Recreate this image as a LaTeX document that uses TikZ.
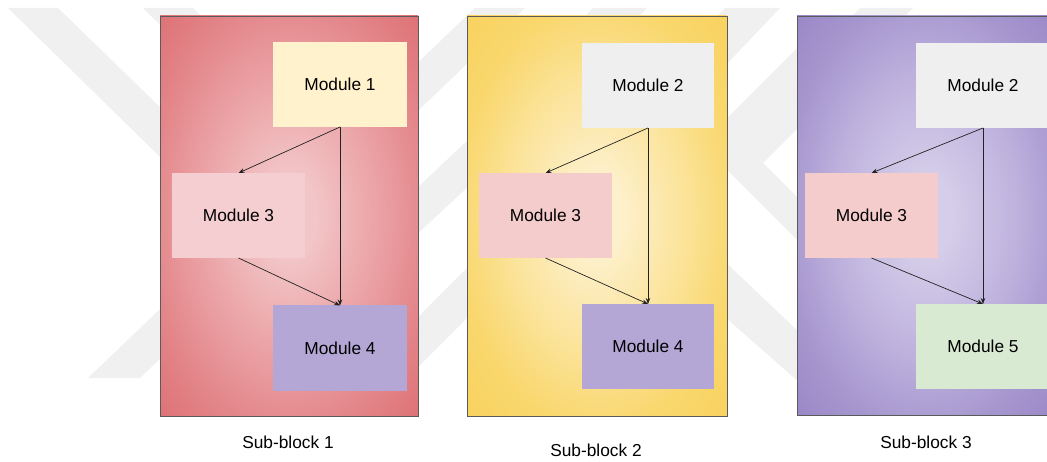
\documentclass[tikz,border=0pt]{standalone}
\usepackage{fontspec}
\setmainfont{Liberation Sans}
\usetikzlibrary{arrows.meta}

% block and module colours
\definecolor{redin}{HTML}{F2C6C8}
\definecolor{redmid}{HTML}{EBA3A6}
\definecolor{redout}{HTML}{E3868A}
\definecolor{redcorner}{HTML}{DB676B}
\definecolor{yelin}{HTML}{FDF0CB}
\definecolor{yelmid}{HTML}{FBE399}
\definecolor{yelout}{HTML}{F9D76C}
\definecolor{yelcorner}{HTML}{F8D05A}
\definecolor{purin}{HTML}{D5CDE9}
\definecolor{purmid}{HTML}{BFB3DE}
\definecolor{purout}{HTML}{A797CF}
\definecolor{purcorner}{HTML}{9280C1}
\definecolor{modyellow}{HTML}{FFF2CC}
\definecolor{modpink}{HTML}{F4CCCC}
\definecolor{modpinksoft}{HTML}{F4CED0}
\definecolor{modlav}{HTML}{B4A7D6}
\definecolor{modgray}{HTML}{EFEFEF}
\definecolor{modgreen}{HTML}{D9EAD3}
\definecolor{blockline}{HTML}{5A5A5A}
\definecolor{linkcol}{HTML}{222222}
\definecolor{ghostgray}{HTML}{F0F0F0}

% soft glow in the middle of each panel
\pgfdeclareradialshading{redglow}{\pgfpointorigin}{color(0bp)=(redin); color(5bp)=(redin); color(17bp)=(redmid); color(27bp)=(redout); color(40bp)=(redcorner)}
\pgfdeclareradialshading{yelglow}{\pgfpointorigin}{color(0bp)=(yelin); color(5bp)=(yelin); color(17bp)=(yelmid); color(27bp)=(yelout); color(40bp)=(yelcorner)}
\pgfdeclareradialshading{purglow}{\pgfpointorigin}{color(0bp)=(purin); color(5bp)=(purin); color(17bp)=(purmid); color(27bp)=(purout); color(40bp)=(purcorner)}

\newfontfamily\labelfont{Liberation Sans}

\tikzset{
  block/.style={draw=blockline, line width=0.8pt},
  module/.style={minimum width=134pt, minimum height=85pt, inner sep=0pt,
    outer sep=0pt, font=\labelfont\fontsize{17.3}{20}\selectfont},
  link/.style={draw=linkcol, line width=0.7pt, -{Stealth[length=6pt,width=4.5pt]}},
  caption/.style={inner sep=0pt, font=\labelfont\fontsize{17.3}{20}\selectfont},
  ghost/.style={fill=ghostgray, draw=none},
}

\begin{document}
\begin{tikzpicture}[x=1pt, y=-1pt]
  \useasboundingbox (0,0) rectangle (1047,462);
  \fill[white] (0,0) rectangle (1047,462);

  % faint background emblem
  \path[ghost] (8,8) -- (58,8) -- (200,146) -- (200,196) -- cycle;
  \path[ghost] (143,8) -- (193,8) -- (200,15) -- (200,64) -- cycle;
  \path[ghost] (88,378) -- (140,378) -- (525,8) -- (475,8) -- cycle;
  \path[ghost] (400,204) -- (400,250) -- (485,171) -- (485,124) -- cycle;
  \path[ghost] (400,335) -- (400,385) -- (485,300) -- (485,250) -- cycle;
  \path[ghost] (593,8) -- (647,8) -- (630,25) -- (576,25) -- cycle;
  \path[ghost] (725,8) -- (780,8) -- (700,92) -- (700,34) -- cycle;
  \path[ghost] (800,45) -- (800,126) -- (763,163) -- (800,200) -- (800,243)
               -- (727,170) -- (700,170) -- (700,145) -- (727,118) -- cycle;
  \path[ghost] (700,238) -- (700,295) -- (800,383) -- (800,333) -- cycle;
  \path[ghost] (860,8) -- (913,8) -- (896,25) -- (843,25) -- cycle;

  % sub-block panels
  \path[block, shading=redglow] (160,16) rectangle (418,416);
  \path[block, shading=yelglow] (467,16) rectangle (727,416);
  \path[block, shading=purglow] (797,16) rectangle (1056,415);

  % sub-block 1
  \node[module, fill=modyellow] (b1m1) at (340,84.5) {Module 1};
  \node[module, fill=modpinksoft, minimum width=133pt] (b1m3) at (238.5,215.5) {Module 3};
  \node[module, fill=modlav] (b1m4) at (340,348) {Module 4};
  \draw[link] (b1m1.south) -- (b1m3.north);
  \draw[link] (b1m1.south) -- (b1m4.north);
  \draw[link] (b1m3.south) -- (b1m4.north);

  % sub-block 2
  \node[module, fill=modgray, minimum width=132pt] (b2m2) at (648,85.5) {Module 2};
  \node[module, fill=modpink, minimum width=133pt] (b2m3) at (545.5,215.5) {Module 3};
  \node[module, fill=modlav, minimum width=132pt] (b2m4) at (648,346.5) {Module 4};
  \draw[link] (b2m2.south) -- (b2m3.north);
  \draw[link] (b2m2.south) -- (b2m4.north);
  \draw[link] (b2m3.south) -- (b2m4.north);

  % sub-block 3
  \node[module, fill=modgray] (b3m2) at (983,85.5) {Module 2};
  \node[module, fill=modpink, minimum width=133pt] (b3m3) at (871.5,215.5) {Module 3};
  \node[module, fill=modgreen] (b3m5) at (983,346.5) {Module 5};
  \draw[link] (b3m2.south) -- (b3m3.north);
  \draw[link] (b3m2.south) -- (b3m5.north);
  \draw[link] (b3m3.south) -- (b3m5.north);

  % captions
  \node[caption] (c1) at (288,442) {Sub-block 1};
  \node[caption] (c2) at (596,450) {Sub-block 2};
  \node[caption] (c3) at (926,442) {Sub-block 3};
\end{tikzpicture}
\end{document}
